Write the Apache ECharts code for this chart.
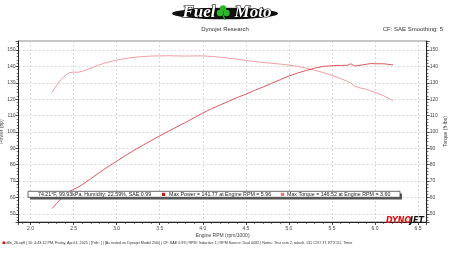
<!DOCTYPE html>
<html>
<head>
<meta charset="utf-8">
<script src="https://cdn.jsdelivr.net/npm/echarts@6/dist/echarts.min.js"></script>
<style>html,body{margin:0;padding:0;background:#fff}#c{width:450px;height:253px}</style>
</head>
<body>
<div id="c"></div>
<script>
// Engine RPM (x1000)
const rpm = [2.25, 2.30, 2.35, 2.40, 2.45, 2.50, 2.55, 2.60, 2.70, 2.80, 2.90, 3.00, 3.10, 3.20, 3.30, 3.40, 3.50, 3.60, 3.70, 3.80, 3.90, 4.00, 4.10, 4.20, 4.30, 4.40, 4.50, 4.60, 4.70, 4.80, 4.90, 5.00, 5.10, 5.20, 5.30, 5.40, 5.50, 5.60, 5.68, 5.72, 5.76, 5.80, 5.90, 5.96, 6.00, 6.10, 6.21];
// Power (hp)
const power = [53.2, 56.2, 59.0, 61.4, 63.5, 65.0, 66.2, 67.8, 71.4, 75.2, 78.8, 82.1, 85.5, 88.7, 91.7, 94.7, 97.6, 100.4, 103.1, 105.8, 108.7, 111.5, 114.1, 116.4, 118.7, 121.0, 123.0, 125.3, 127.4, 129.7, 131.9, 134.1, 135.9, 137.5, 138.9, 140.0, 140.4, 140.6, 140.7, 141.6, 140.3, 140.5, 141.3, 141.77, 141.6, 141.6, 140.9];
// Torque (ft-lbs)
const torque = [124.2, 128.3, 131.8, 134.3, 136.2, 136.5, 136.4, 137.0, 138.9, 141.0, 142.6, 143.8, 144.8, 145.5, 146.0, 146.3, 146.4, 146.52, 146.4, 146.3, 146.4, 146.4, 146.1, 145.6, 145.0, 144.4, 143.6, 143.0, 142.4, 141.9, 141.4, 140.8, 140.0, 138.9, 137.6, 136.2, 134.5, 132.6, 130.8, 129.8, 127.9, 127.2, 126.0, 124.9, 124.2, 122.0, 119.1];

const conditions = "74.21°F, 99.93kPa, Humidity: 22.59%, SAE:0.99";
const maxPowerText = "Max Power = 141.77 at Engine RPM = 5.96";
const maxTorqueText = "Max Torque = 146.52 at Engine RPM = 3.60";
const footerText = "uffle_26.xp8 | 10: 4:43:12 PM, Friday, April 4, 2025 | [Title: ] | [As tested on Dynojet Model 250i] | CF: SAE 0.99 | RPM: Inductive 1 | RPM Source: Dual 0082 | Notes: Test cam 2, rebuilt, 131 CVO 3T, RTX D1, Timer";

const powerColor = '#e0585e';
const torqueColor = '#f09ea2';
const FONT = 'Liberation Sans';
const lbl = {fontFamily: FONT, fontSize: 5, color: '#444'};

const chart = echarts.init(document.getElementById('c'), null, {renderer: 'canvas'});

function yAxisCfg(pos, name, gap) {
  return {
    type: 'value', position: pos, min: 45, max: 155.5, splitNumber: 11,
    name: name, nameLocation: 'middle', nameGap: gap, nameRotate: 90, nameMoveOverlap: false,
    nameTextStyle: {fontFamily: FONT, fontSize: 5, color: '#444'},
    axisLine: {show: true, lineStyle: {color: '#222', width: 1}},
    axisTick: {show: true, inside: false, length: 3, lineStyle: {color: '#222', width: 0.8}},
    minorTick: {show: true, splitNumber: 5, length: 1.8, lineStyle: {color: '#222', width: 0.6}},
    axisLabel: Object.assign({margin: 3, showMinLabel: false, showMaxLabel: false}, lbl),
    splitLine: {show: pos === 'left', lineStyle: {color: '#cfcfcf', type: [2, 2], width: 0.8}},
    minorSplitLine: {show: false}
  };
}

chart.setOption({
  animation: false,
  backgroundColor: '#fff',
  grid: {left: 18.5, right: 23.3, top: 41, bottom: 31, containLabel: false, outerBoundsMode: 'none',
         show: true, borderColor: '#888', borderWidth: 1, backgroundColor: '#fff'},
  xAxis: {
    type: 'value', min: 1.86, max: 6.6, splitNumber: 10,
    name: 'Engine RPM (rpm/1000)', nameLocation: 'middle', nameGap: 11, nameMoveOverlap: false,
    nameTextStyle: {fontFamily: FONT, fontSize: 5, color: '#444'},
    axisLine: {show: true, lineStyle: {color: '#222', width: 1}},
    axisTick: {show: true, length: 3, lineStyle: {color: '#222', width: 0.8}},
    minorTick: {show: true, splitNumber: 5, length: 2, lineStyle: {color: '#222', width: 0.6}},
    axisLabel: Object.assign({margin: 4, showMinLabel: false, showMaxLabel: false, formatter: v => v.toFixed(1)}, lbl),
    splitLine: {show: true, lineStyle: {color: '#cfcfcf', type: [2, 2], width: 0.8}}
  },
  yAxis: [yAxisCfg('left', 'Power (hp)', 14), yAxisCfg('right', 'Torque (ft-lbs)', 16)],
  series: [
    {type: 'line', name: 'Torque', yAxisIndex: 1, showSymbol: false, symbol: 'none',
     lineStyle: {color: torqueColor, width: 1}, data: rpm.map((r, i) => [r, torque[i]]), z: 3},
    {type: 'line', name: 'Power', yAxisIndex: 0, showSymbol: false, symbol: 'none',
     lineStyle: {color: powerColor, width: 1}, data: rpm.map((r, i) => [r, power[i]]), z: 4}
  ],
  graphic: [
    // Fuel Moto logo
    {type: 'group', children: [
      {type: 'circle', shape: {cx: 0, cy: 0, r: 53}, x: 225, y: 13.5, scaleX: 1, scaleY: 0.11, style: {fill: '#111'}},
      {type: 'text', x: 199, y: 12.5, style: {text: 'Fuel', font: 'italic bold 17px "Liberation Serif"', fill: '#fff', stroke: '#000', lineWidth: 1.2, align: 'center', verticalAlign: 'middle'}},
      {type: 'text', x: 253, y: 12.5, style: {text: 'Moto', font: 'italic bold 17px "Liberation Serif"', fill: '#fff', stroke: '#000', lineWidth: 1.2, align: 'center', verticalAlign: 'middle'}},
      {type: 'circle', shape: {cx: 223, cy: 8.5, r: 3.2}, style: {fill: '#2db52d'}},
      {type: 'circle', shape: {cx: 220, cy: 13, r: 3.2}, style: {fill: '#2db52d'}},
      {type: 'circle', shape: {cx: 226.5, cy: 13, r: 3.2}, style: {fill: '#2db52d'}},
      {type: 'line', shape: {x1: 223, y1: 15, x2: 225, y2: 20}, style: {stroke: '#2db52d', lineWidth: 1.2}}
    ]},
    {type: 'text', x: 225, y: 29, style: {text: 'Dynojet Research', font: '6px "Liberation Sans"', fill: '#333', align: 'center', verticalAlign: 'middle'}},
    {type: 'text', x: 443, y: 29, style: {text: 'CF: SAE Smoothing: 5', font: '6px "Liberation Sans"', fill: '#333', align: 'right', verticalAlign: 'middle'}},
    // conditions / max box
    {type: 'rect', shape: {x: 30, y: 193.5, width: 372, height: 6}, style: {fill: '#555'}, z: 10},
    {type: 'rect', shape: {x: 28, y: 191.3, width: 372, height: 6}, style: {fill: '#fff', stroke: '#444', lineWidth: 0.8}, z: 11},
    {type: 'text', x: 38, y: 194.5, z: 12, style: {text: conditions, font: '5.3px "Liberation Sans"', fill: '#222', verticalAlign: 'middle'}},
    {type: 'rect', shape: {x: 162, y: 192.8, width: 3.2, height: 3.2}, z: 12, style: {fill: '#e01010'}},
    {type: 'text', x: 169, y: 194.5, z: 12, style: {text: maxPowerText, font: '5.3px "Liberation Sans"', fill: '#222', verticalAlign: 'middle'}},
    {type: 'rect', shape: {x: 281, y: 192.8, width: 3.2, height: 3.2}, z: 12, style: {fill: '#f07070'}},
    {type: 'text', x: 287, y: 194.5, z: 12, style: {text: maxTorqueText, font: '5.3px "Liberation Sans"', fill: '#222', verticalAlign: 'middle'}},
    // Dynojet logo
    {type: 'text', x: 386, y: 220.5, z: 12, style: {text: 'DYNO', font: 'italic 900 8px "DejaVu Sans"', fill: '#e01010', verticalAlign: 'middle'}},
    {type: 'text', x: 410, y: 220.5, z: 12, style: {text: 'JET', font: 'italic 900 8px "DejaVu Sans"', fill: '#111', verticalAlign: 'middle'}},
    // footer
    {type: 'rect', shape: {x: 2.5, y: 241.5, width: 2.5, height: 2.5}, style: {fill: '#e01010'}},
    {type: 'text', x: 5, y: 243, style: {text: footerText, font: '3.7px "Liberation Sans"', fill: '#333', verticalAlign: 'middle'}}
  ]
});
</script>
</body>
</html>
